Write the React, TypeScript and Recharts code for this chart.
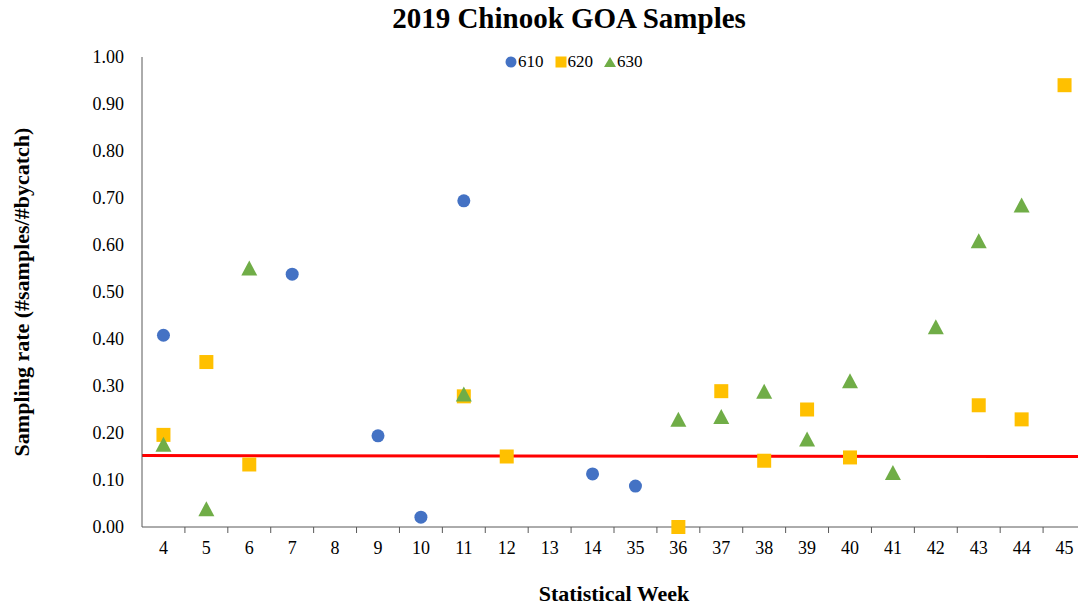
// 2019 CHINOOK GOA SAMPLES - scatter by statistical week
import { ScatterChart, Scatter, XAxis, YAxis, ReferenceLine, Legend } from 'recharts';

const weeks = ['4', '5', '6', '7', '8', '9', '10', '11', '12', '13', '14', '35', '36', '37', '38', '39', '40', '41', '42', '43', '44', '45'];
const yTicks = [0, 0.1, 0.2, 0.3, 0.4, 0.5, 0.6, 0.7, 0.8, 0.9, 1.0];

const weeks610 = ['4', '7', '9', '10', '11', '14', '35'];
const rates610 = [0.408, 0.538, 0.194, 0.021, 0.694, 0.113, 0.087];

const weeks620 = ['4', '5', '6', '11', '12', '36', '37', '38', '39', '40', '43', '44', '45'];
const rates620 = [0.196, 0.351, 0.133, 0.278, 0.150, 0.0, 0.289, 0.141, 0.250, 0.148, 0.259, 0.229, 0.940];

const weeks630 = ['4', '5', '6', '11', '36', '37', '38', '39', '40', '41', '42', '43', '44'];
const rates630 = [0.176, 0.039, 0.551, 0.283, 0.229, 0.235, 0.289, 0.187, 0.311, 0.116, 0.426, 0.609, 0.685];

// linear trend, start and end of the week range
const trendRates = [0.152, 0.150];

const CHART_W = 1100;
const CHART_H = 607;
const PLOT_LEFT = 142;
const PLOT_RIGHT = 1086;
const HALF_BAND = (PLOT_RIGHT - PLOT_LEFT) / weeks.length / 2;
const FONT = '"Liberation Serif", "Times New Roman", serif';

const toPoints = (ws: string[], vs: number[]) =>
  ws.map((w, i) => ({ x: weeks.indexOf(w) + 0.5, y: vs[i] }));

const series = [
  { name: '610', color: '#4472C4', type: 'circle' as const, data: toPoints(weeks610, rates610) },
  { name: '620', color: '#FFC000', type: 'square' as const, data: toPoints(weeks620, rates620) },
  { name: '630', color: '#70AD47', type: 'triangle' as const, data: toPoints(weeks630, rates630) },
];

function Marker({ cx, cy, fill, kind }: any) {
  if (cx == null || cy == null) return null;
  if (kind === 'circle') return <circle cx={cx} cy={cy} r={6.5} fill={fill} />;
  if (kind === 'square') return <rect x={cx - 7} y={cy - 7} width={14} height={14} fill={fill} />;
  return <polygon points={`${cx},${cy - 7.5} ${cx + 8},${cy + 7.5} ${cx - 8},${cy + 7.5}`} fill={fill} />;
}

function WeekTick({ x, y, payload, index }: any) {
  const label = weeks[payload.value - 0.5];
  const axisY = y - 8;
  return (
    <g>
      {index < weeks.length - 1 && (
        <line x1={x + HALF_BAND} x2={x + HALF_BAND} y1={axisY} y2={axisY + 6} stroke="#595959" />
      )}
      <text x={x} y={y} dy={19} textAnchor="middle" fontSize={18} fontFamily={FONT} fill="#000">
        {label}
      </text>
    </g>
  );
}

function LegendContent() {
  return (
    <div style={{ display: 'flex', alignItems: 'center', fontFamily: FONT, fontSize: 17, color: '#000' }}>
      {series.map(s => (
        <div key={s.name} style={{ display: 'flex', alignItems: 'center', marginRight: 11 }}>
          <svg width={12} height={12} style={{ marginRight: 1 }}>
            {s.type === 'circle' && <circle cx={6} cy={6} r={5.5} fill={s.color} />}
            {s.type === 'square' && <rect x={0.5} y={0.5} width={11} height={11} fill={s.color} />}
            {s.type === 'triangle' && <polygon points="6,1 12,11 0,11" fill={s.color} />}
          </svg>
          <span>{s.name}</span>
        </div>
      ))}
    </div>
  );
}

export default function App() {
  return (
    <div style={{ position: 'absolute', left: 0, top: 0, width: 1078, height: 607, overflow: 'hidden', background: '#fff' }}>
      <div
        style={{
          position: 'absolute', left: 0, top: 2, width: 1138, textAlign: 'center',
          fontFamily: FONT, fontWeight: 'bold', fontSize: 29, color: '#000',
        }}
      >
        2019 Chinook GOA Samples
      </div>
      <ScatterChart width={CHART_W} height={CHART_H} margin={{ top: 57, right: CHART_W - PLOT_RIGHT, bottom: 0, left: 0 }}>
        <XAxis
          type="number"
          dataKey="x"
          domain={[0, weeks.length]}
          ticks={weeks.map((_, i) => i + 0.5)}
          interval={0}
          tickLine={false}
          tick={<WeekTick />}
          height={80}
          stroke="#595959"
          label={{ value: 'Statistical Week', position: 'insideBottom', offset: 6, fontFamily: FONT, fontWeight: 'bold', fontSize: 22, fill: '#000' }}
        />
        <YAxis
          type="number"
          dataKey="y"
          domain={[0, 1]}
          ticks={yTicks}
          interval={0}
          width={PLOT_LEFT}
          tickLine={false}
          tickSize={0}
          tickMargin={18}
          tickFormatter={(v: number) => v.toFixed(2)}
          tick={{ fontFamily: FONT, fontSize: 18, fill: '#000' }}
          stroke="#595959"
          label={{ value: 'Sampling rate (#samples/#bycatch)', angle: -90, position: 'insideLeft', offset: 21, style: { textAnchor: 'middle' }, fontFamily: FONT, fontWeight: 'bold', fontSize: 22, fill: '#000' }}
        />
        <ReferenceLine
          segment={[{ x: 0, y: trendRates[0] }, { x: weeks.length, y: trendRates[1] }]}
          stroke="#FF0000"
          strokeWidth={3}
        />
        <Legend
          layout="horizontal"
          verticalAlign="middle"
          align="center"
          content={<LegendContent />}
          wrapperStyle={{ top: 52, left: 505, width: 'auto' }}
        />
        {series.map(s => (
          <Scatter
            key={s.name}
            name={s.name}
            data={s.data}
            fill={s.color}
            legendType={s.type}
            isAnimationActive={false}
            shape={(props: any) => <Marker {...props} fill={s.color} kind={s.type} />}
          />
        ))}
      </ScatterChart>
    </div>
  );
}
